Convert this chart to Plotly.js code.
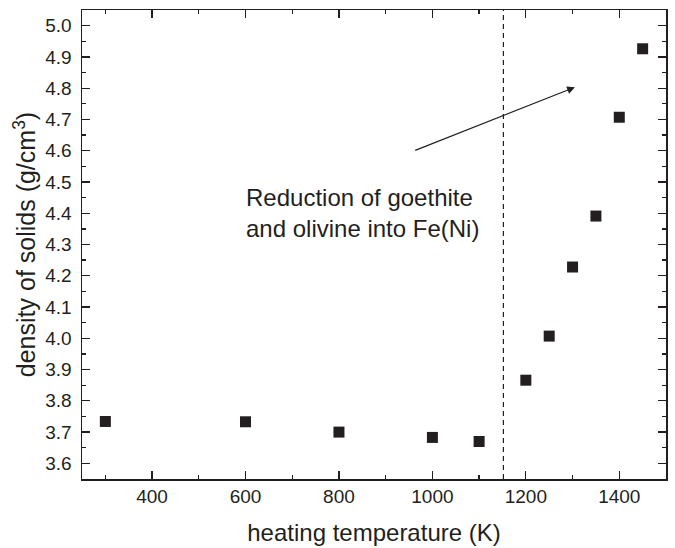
<!DOCTYPE html>
<html>
<head>
<meta charset="utf-8">
<script src="https://cdn.plot.ly/plotly-3.0.1.min.js"></script>
<style>html,body{margin:0;padding:0;background:#fff;}#chart{width:675px;height:548px;}</style>
</head>
<body>
<div id="chart"></div>
<script>
const temperature = [300, 600, 800, 1000, 1100, 1200, 1250, 1300, 1350, 1400, 1450];
const density = [3.734, 3.733, 3.700, 3.683, 3.670, 3.866, 4.007, 4.228, 4.391, 4.707, 4.926];
const xTitle = 'heating temperature (K)';
const yTitle = 'density of solids (g/cm<sup>3</sup>)';
const noteLines = ['Reduction of goethite', 'and olivine into Fe(Ni)'];
const reductionTemp = 1152;
const arrowFrom = [960, 4.599];
const arrowTo = [1305, 4.803];

const ink = '#231f20';
const fontFam = 'Liberation Sans, Arial, sans-serif';

const trace = {
  x: temperature, y: density, type: 'scatter', mode: 'markers',
  marker: {symbol: 'square', size: 11, color: ink},
  hoverinfo: 'skip'
};

const axisCommon = {
  showgrid: false, zeroline: false, showline: true, linecolor: ink, linewidth: 1.5,
  mirror: 'ticks', ticks: 'inside', ticklen: 8, tickwidth: 1.3, tickcolor: ink,
  tickfont: {family: fontFam, size: 19, color: ink}
};

const layout = {
  width: 675, height: 548,
  margin: {l: 82, r: 9, t: 10, b: 69},
  paper_bgcolor: '#fff', plot_bgcolor: '#fff',
  showlegend: false,
  font: {family: fontFam, color: ink},
  xaxis: Object.assign({}, axisCommon, {
    range: [250, 1500], tick0: 400, dtick: 200,
    minor: {dtick: 100, tick0: 300, ticks: 'inside', ticklen: 4, tickwidth: 1.3, tickcolor: ink},
    title: {text: xTitle, font: {family: fontFam, size: 24, color: ink}, standoff: 18}
  }),
  yaxis: Object.assign({}, axisCommon, {
    range: [3.55, 5.05], tick0: 3.6, dtick: 0.1, tickformat: '.1f',
    ticklabelstandoff: 5,
    minor: {dtick: 0.05, tick0: 3.55, ticks: 'inside', ticklen: 4, tickwidth: 1.3, tickcolor: ink},
    title: {text: yTitle, font: {family: fontFam, size: 25, color: ink}, standoff: 2}
  }),
  shapes: [{
    type: 'line', xref: 'x', yref: 'paper', x0: reductionTemp, x1: reductionTemp, y0: 0, y1: 1,
    line: {color: ink, width: 1.2, dash: '5px,4px'}
  }],
  annotations: [
    {
      x: arrowTo[0], y: arrowTo[1], ax: arrowFrom[0], ay: arrowFrom[1],
      xref: 'x', yref: 'y', axref: 'x', ayref: 'y',
      text: '', showarrow: true, arrowhead: 2, arrowsize: 1.3, arrowwidth: 1.2, arrowcolor: ink
    },
    {
      x: 0.278, y: 4.40, xref: 'paper', yref: 'y', xanchor: 'left', yanchor: 'middle', align: 'left',
      text: noteLines.join('<br>'), showarrow: false,
      font: {family: fontFam, size: 24, color: ink}
    }
  ]
};

Plotly.newPlot('chart', [trace], layout, {staticPlot: true, displayModeBar: false});
</script>
</body>
</html>
